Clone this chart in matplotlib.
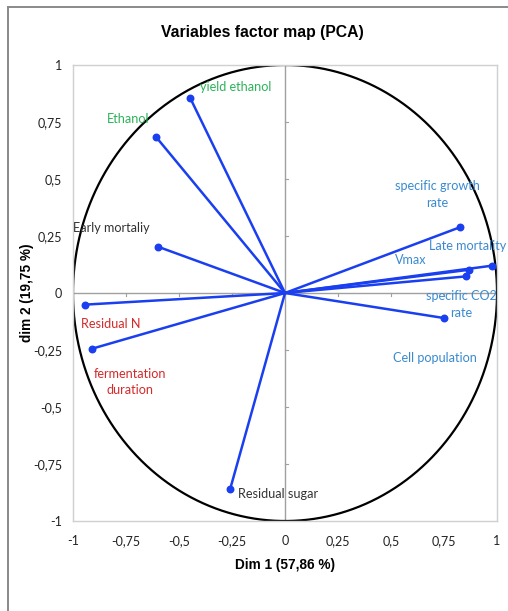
import numpy as np
import matplotlib
matplotlib.use("Agg")
import matplotlib.pyplot as plt
from matplotlib.lines import Line2D

# ---- data ----
variables = ["yield ethanol", "Ethanol", "Early mortaliy", "Residual N",
             "fermentation duration", "Residual sugar", "specific growth rate",
             "Late mortality", "Vmax", "Cell population", "specific CO2 rate"]
dim1 = [-0.447, -0.607, -0.599, -0.943, -0.909, -0.259, 0.824, 0.978, 0.869, 0.855, 0.751]
dim2 = [0.855, 0.683, 0.203, -0.051, -0.244, -0.861, 0.288, 0.120, 0.102, 0.073, -0.110]
ticks = [-1, -0.75, -0.5, -0.25, 0, 0.25, 0.5, 0.75, 1]
tick_labels = ["-1", "-0,75", "-0,5", "-0,25", "0", "0,25", "0,5", "0,75", "1"]

# label text, position and colour (display)
label_text = ["yield ethanol", "Ethanol", "Early mortaliy", "Residual N",
              "fermentation\nduration", "Residual sugar", "specific growth\nrate",
              "Late mortality", "Vmax", "Cell population", "specific CO2\nrate"]
GREEN, RED, BLUE, DARK = "#2BB35A", "#D42A2A", "#3A8AD0", "#333333"
label_color = [GREEN, GREEN, DARK, RED, RED, DARK, BLUE, BLUE, BLUE, BLUE, BLUE]
label_x = [-0.40, -0.84, -1.00, -0.96, -0.73, -0.22, 0.72, 0.68, 0.52, 0.51, 0.83]
label_y = [0.903, 0.763, 0.283, -0.137, -0.390, -0.880, 0.433, 0.207, 0.143, -0.287, -0.050]
label_ha = ["left", "left", "left", "left", "center", "left", "center", "left", "left", "left", "center"]

W, H = 508, 611
fig = plt.figure(figsize=(W / 100, H / 100), dpi=100)
fig.patch.set_facecolor("white")

# outer frame (left and top lines)
fig.add_artist(Line2D([8 / W, 8 / W], [0, 1 - 7 / H], transform=fig.transFigure,
                      color="#8a8a8a", lw=1.4))
fig.add_artist(Line2D([8 / W, 1], [1 - 7 / H, 1 - 7 / H], transform=fig.transFigure,
                      color="#8a8a8a", lw=1.4))

ax = fig.add_axes([73 / W, 1 - 521 / H, (497 - 73) / W, (521 - 65) / H])
ax.set_xlim(-1, 1)
ax.set_ylim(-1, 1)
for s in ax.spines.values():
    s.set_color("#d0d0d0")
    s.set_linewidth(1.0)

ax.set_xticks(ticks)
ax.set_xticklabels(tick_labels)
ax.set_yticks(ticks)
ax.set_yticklabels(tick_labels)
ax.tick_params(length=0, labelsize=9, labelcolor="#222222")
for t in ax.get_xticklabels() + ax.get_yticklabels():
    t.set_family("Lato")
ax.tick_params(axis="y", pad=8)
ax.tick_params(axis="x", pad=10)

# axes through origin
ax.axhline(0, color="#a0a0a0", lw=1.0, zorder=1)
ax.axvline(0, color="#a0a0a0", lw=1.0, zorder=1)
for t in ticks:
    if t != 0:
        ax.plot([0, 0.012], [t, t], color="#a0a0a0", lw=0.8, zorder=1)
        ax.plot([t, t], [0, -0.012], color="#a0a0a0", lw=0.8, zorder=1)

# correlation circle
th = np.linspace(0, 2 * np.pi, 400)
ax.plot(np.cos(th), np.sin(th), color="black", lw=1.6, zorder=2)

# variable vectors
for x, y in zip(dim1, dim2):
    ax.plot([0, x], [0, y], color="#1a3ff0", lw=1.8, zorder=3)
ax.scatter(dim1, dim2, s=22, color="#1a3ff0", zorder=4)

for txt, x, y, c, ha in zip(label_text, label_x, label_y, label_color, label_ha):
    ax.text(x, y, txt, color=c, ha=ha, va="center", fontsize=9.1,
            family="Lato", linespacing=1.45, zorder=5)

fig.text(262 / W, 1 - 33 / H, "Variables factor map (PCA)", ha="center", va="center",
         fontsize=11.3, fontweight="bold", family="Liberation Sans")
fig.text(285 / W, 1 - 565 / H, "Dim 1 (57,86 %)", ha="center", va="center",
         fontsize=9.8, fontweight="bold", family="Liberation Sans")
fig.text(27 / W, 1 - 293 / H, "dim 2 (19,75 %)", ha="center", va="center", rotation=90,
         fontsize=9.8, fontweight="bold", family="Liberation Sans")

fig.savefig("out.png", dpi=100)
